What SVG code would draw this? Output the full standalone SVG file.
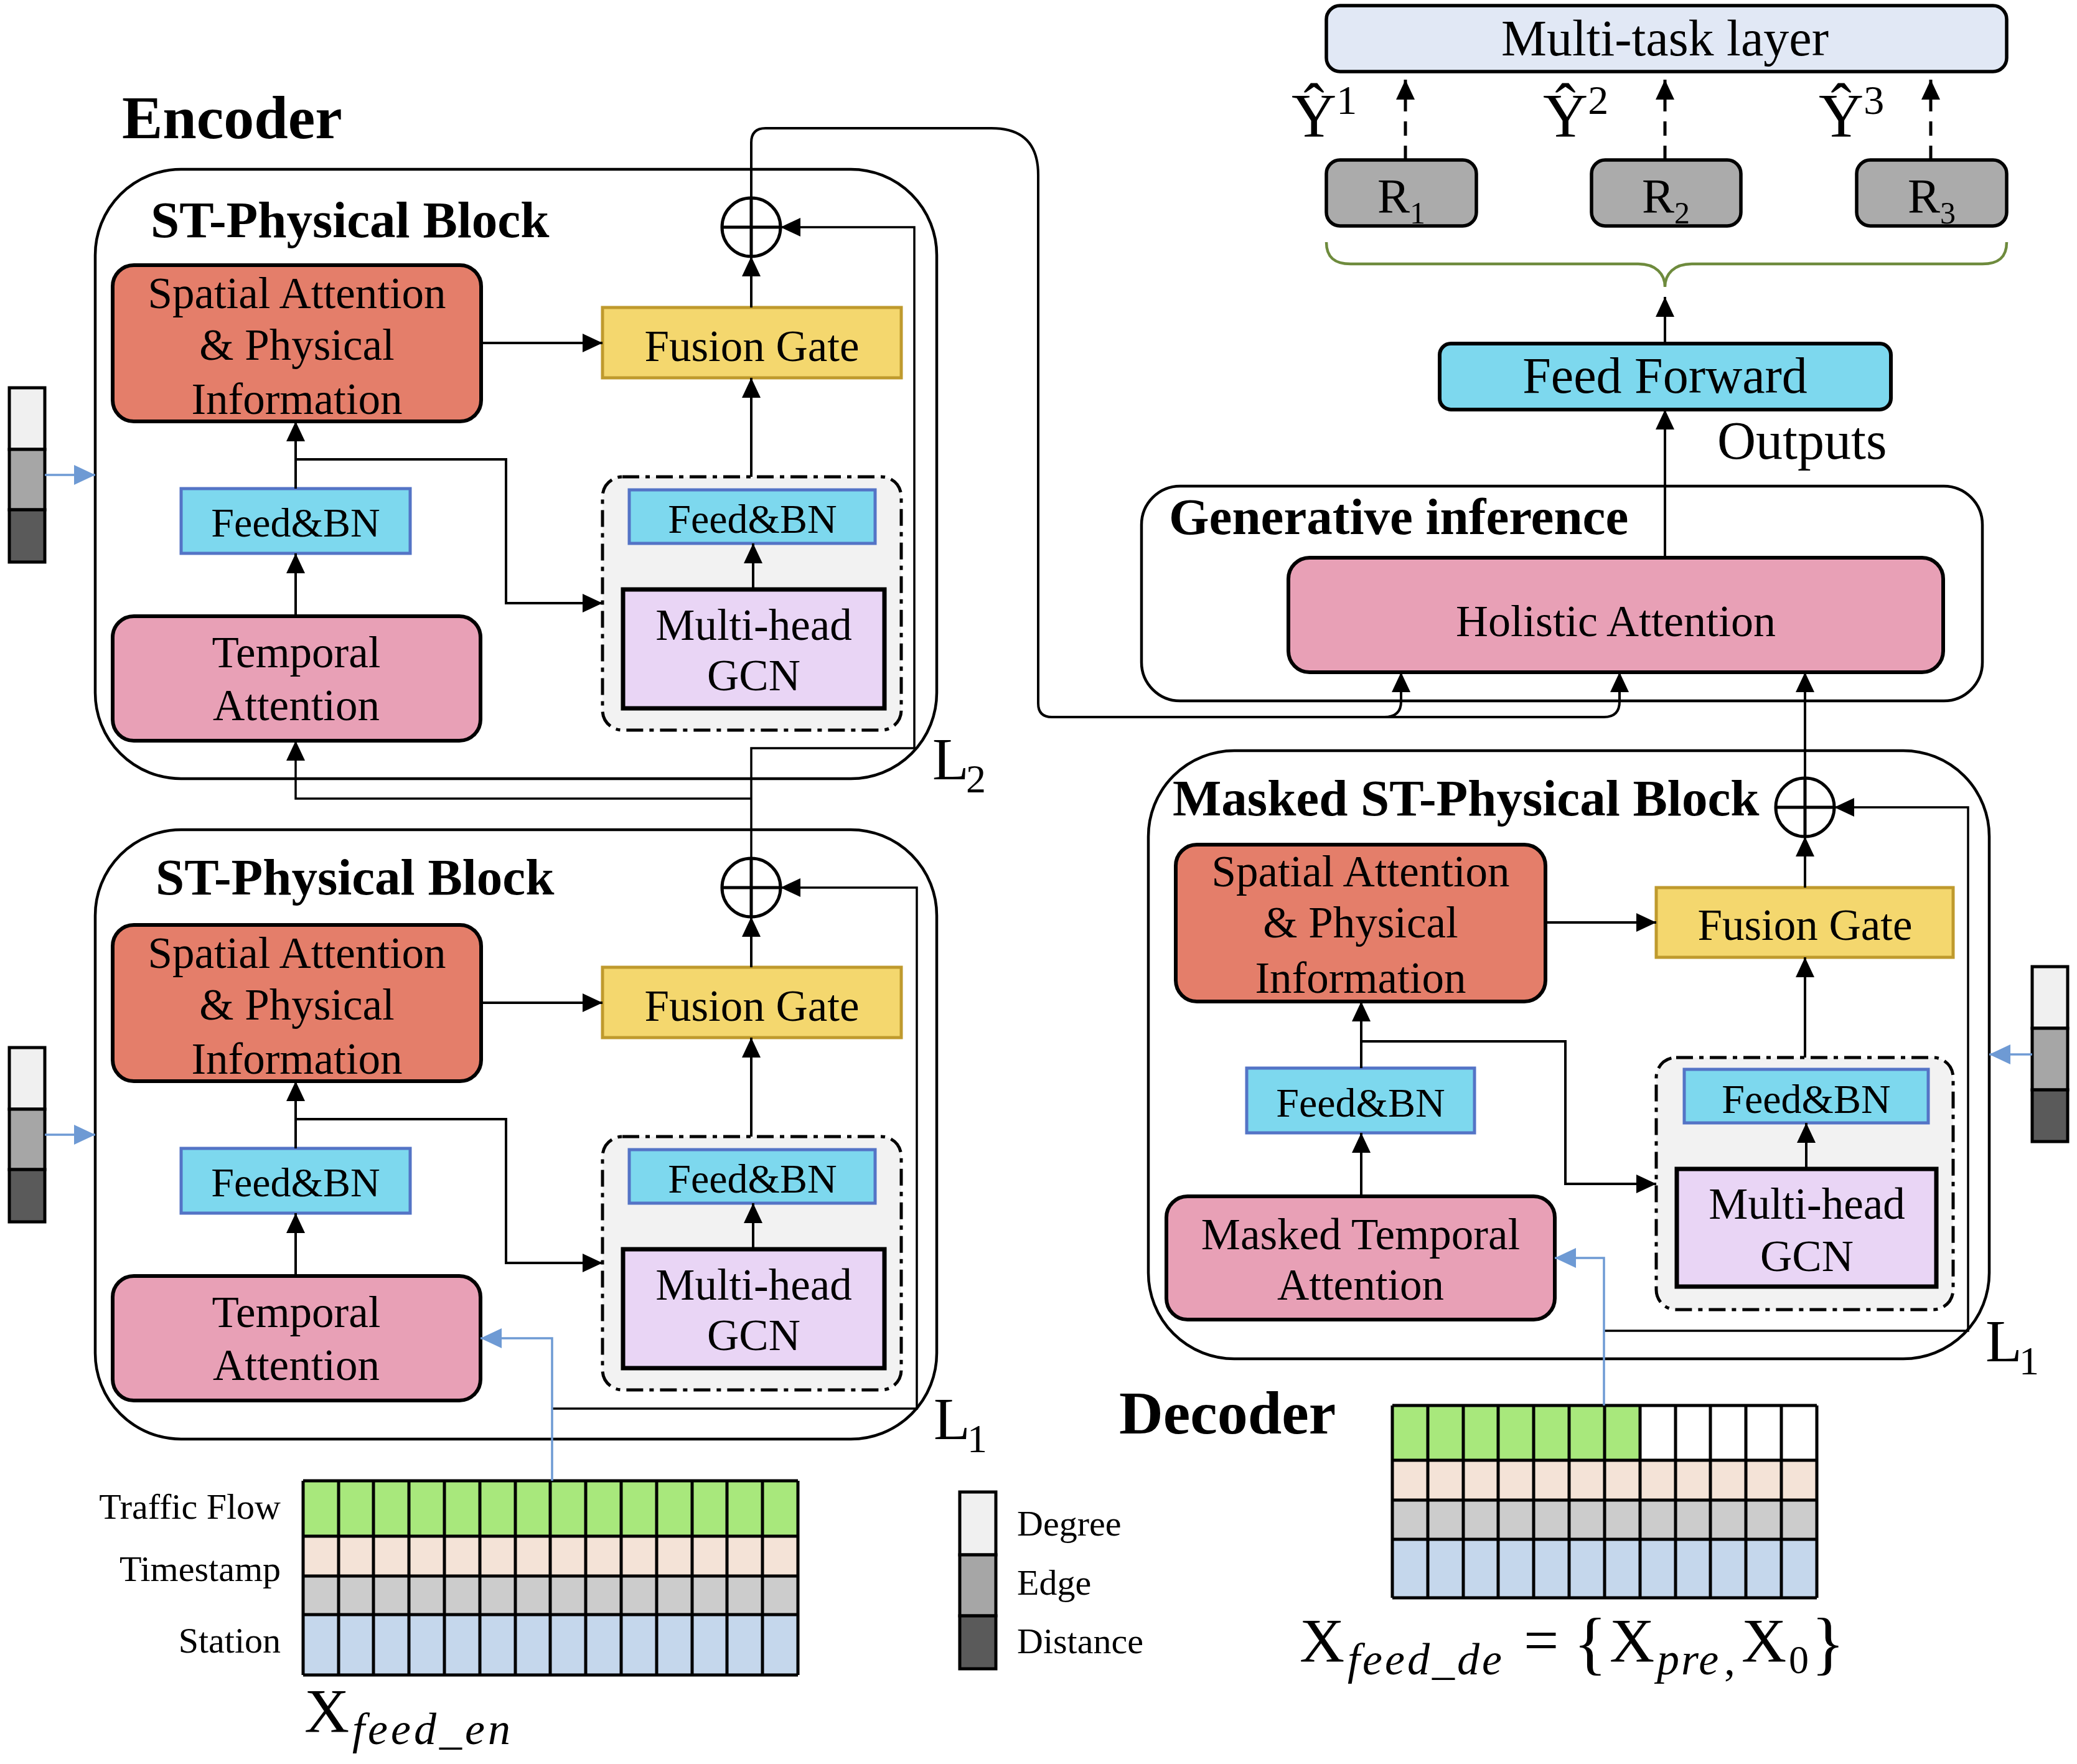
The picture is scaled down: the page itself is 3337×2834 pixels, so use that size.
<svg xmlns="http://www.w3.org/2000/svg" width="3337" height="2834" viewBox="0 0 3337 2834">
<style>
text{font-family:"Liberation Serif","Times New Roman",serif;fill:#000}
.t{font-size:71px;text-anchor:middle}
.fb{font-size:66px;text-anchor:middle}
.h{font-size:83px;font-weight:bold}
.big{font-size:98px;font-weight:bold}
.blk{fill:none;stroke:#000;stroke-width:4.5}
.sp{fill:#E47E6A;stroke:#000;stroke-width:6}
.tm{fill:#E8A0B6;stroke:#000;stroke-width:6}
.fg{fill:#F4D76E;stroke:#BF9A2D;stroke-width:5}
.fbn{fill:#7DD8EE;stroke:#5474C6;stroke-width:5}
.grp{fill:#F2F2F2;stroke:#000;stroke-width:5;stroke-dasharray:27 10 7 10}
.gcn{fill:#E9D5F5;stroke:#000;stroke-width:7}
.ln{fill:none;stroke:#000;stroke-width:4}
.ln2{fill:none;stroke:#000;stroke-width:3.5}
.bl{fill:none;stroke:#6E9AD4;stroke-width:3.5}
.ox{fill:none;stroke:#000;stroke-width:5}
.gl{stroke:#000;stroke-width:5}
.lab{font-size:58px}
.L{font-size:96px}
.sub{font-size:64px}
</style>
<defs>
<marker id="ah" viewBox="0 0 32 30" refX="32" refY="15" markerWidth="32" markerHeight="30" markerUnits="userSpaceOnUse" orient="auto"><path d="M0,0 L32,15 L0,30 z" fill="#000"/></marker>
<marker id="ahb" viewBox="0 0 34 32" refX="34" refY="16" markerWidth="34" markerHeight="32" markerUnits="userSpaceOnUse" orient="auto"><path d="M0,0 L34,16 L0,32 z" fill="#6E9AD4"/></marker>
</defs>
<rect width="3337" height="2834" fill="#fff"/>

<text class="big" x="196" y="222">Encoder</text>
<text class="big" x="1798" y="2303">Decoder</text>

<!-- Upper encoder block -->
<g id="enc-block2">
<rect class="blk" x="153" y="272" width="1352" height="979" rx="138"/>
<text class="h" x="242" y="381">ST-Physical Block</text>
<text class="L" x="1498" y="1252">L<tspan class="sub" x="1552" y="1273">2</tspan></text>
</g>
<g id="enc2-spatial"><rect class="sp" x="181" y="426" width="592" height="251" rx="34"/>
<text class="t" x="477" y="495">Spatial Attention</text><text class="t" x="477" y="578">&amp; Physical</text><text class="t" x="477" y="665">Information</text></g>
<g id="enc2-fusion"><rect class="fg" x="968" y="494" width="480" height="113"/><text class="t" x="1208" y="580">Fusion Gate</text></g>
<g id="enc2-feedbn"><rect class="fbn" x="291" y="785" width="368" height="104"/><text class="fb" x="475" y="862">Feed&amp;BN</text></g>
<g id="enc2-temporal"><rect class="tm" x="181" y="990" width="591" height="200" rx="34"/>
<text class="t" x="476" y="1072">Temporal</text><text class="t" x="476" y="1157">Attention</text></g>
<g id="enc2-gcngroup"><rect class="grp" x="968" y="766" width="480" height="407" rx="32"/>
<rect class="fbn" x="1011" y="787" width="395" height="86"/><text class="fb" x="1209" y="856">Feed&amp;BN</text>
<rect class="gcn" x="1001" y="947" width="420" height="191"/><text class="t" x="1211" y="1028">Multi-head</text><text class="t" x="1211" y="1109">GCN</text></g>
<g id="enc2-add"><circle class="ox" cx="1207" cy="365" r="47"/><line class="ox" x1="1160" y1="365" x2="1254" y2="365"/><line class="ox" x1="1207" y1="318" x2="1207" y2="412"/></g>
<g id="enc2-graph"><rect x="15" y="623" width="57" height="99" fill="#F0F0F0" class="gl"/><rect x="15" y="722" width="57" height="97" fill="#A6A6A6" class="gl"/><rect x="15" y="819" width="57" height="84" fill="#5A5A5A" class="gl"/></g>

<!-- Lower encoder block -->
<g id="enc-block1">
<rect class="blk" x="153" y="1333" width="1352" height="979" rx="138"/>
<text class="h" x="250" y="1437">ST-Physical Block</text>
<text class="L" x="1500" y="2312">L<tspan class="sub" x="1554" y="2333">1</tspan></text>
</g>
<g id="enc1-spatial"><rect class="sp" x="181" y="1486" width="592" height="251" rx="34"/>
<text class="t" x="477" y="1555">Spatial Attention</text><text class="t" x="477" y="1638">&amp; Physical</text><text class="t" x="477" y="1725">Information</text></g>
<g id="enc1-fusion"><rect class="fg" x="968" y="1554" width="480" height="113"/><text class="t" x="1208" y="1640">Fusion Gate</text></g>
<g id="enc1-feedbn"><rect class="fbn" x="291" y="1845" width="368" height="104"/><text class="fb" x="475" y="1922">Feed&amp;BN</text></g>
<g id="enc1-temporal"><rect class="tm" x="181" y="2050" width="591" height="200" rx="34"/>
<text class="t" x="476" y="2132">Temporal</text><text class="t" x="476" y="2217">Attention</text></g>
<g id="enc1-gcngroup"><rect class="grp" x="968" y="1826" width="480" height="407" rx="32"/>
<rect class="fbn" x="1011" y="1847" width="395" height="86"/><text class="fb" x="1209" y="1916">Feed&amp;BN</text>
<rect class="gcn" x="1001" y="2007" width="420" height="191"/><text class="t" x="1211" y="2088">Multi-head</text><text class="t" x="1211" y="2169">GCN</text></g>
<g id="enc1-add"><circle class="ox" cx="1207" cy="1426" r="47"/><line class="ox" x1="1160" y1="1426" x2="1254" y2="1426"/><line class="ox" x1="1207" y1="1379" x2="1207" y2="1473"/></g>
<g id="enc1-graph"><rect x="15" y="1683" width="57" height="99" fill="#F0F0F0" class="gl"/><rect x="15" y="1782" width="57" height="97" fill="#A6A6A6" class="gl"/><rect x="15" y="1879" width="57" height="84" fill="#5A5A5A" class="gl"/></g>

<!-- Encoder input grid -->
<g id="enc-input">
<rect x="487" y="2379" width="795" height="89" fill="#A8E87C"/>
<rect x="487" y="2468" width="795" height="64" fill="#F4E3D7"/>
<rect x="487" y="2532" width="795" height="62" fill="#CCCCCC"/>
<rect x="487" y="2594" width="795" height="97" fill="#C5D7EC"/>
<path class="gl" fill="none" d="M487 2379H1282M487 2468H1282M487 2532H1282M487 2594H1282M487 2691H1282M487 2379V2691M544 2379V2691M600 2379V2691M657 2379V2691M714 2379V2691M771 2379V2691M828 2379V2691M884 2379V2691M941 2379V2691M998 2379V2691M1055 2379V2691M1112 2379V2691M1168 2379V2691M1225 2379V2691M1282 2379V2691"/>
<text class="lab" x="451" y="2440" text-anchor="end">Traffic Flow</text>
<text class="lab" x="451" y="2540" text-anchor="end">Timestamp</text>
<text class="lab" x="451" y="2655" text-anchor="end">Station</text>
<text x="489" y="2782" font-size="100">X<tspan x="566" y="2802" font-size="72" font-style="italic" letter-spacing="5">feed_en</tspan></text>
</g>

<!-- Legend -->
<g id="legend">
<rect x="1542" y="2397" width="58" height="101" fill="#F0F0F0" class="gl"/>
<rect x="1542" y="2498" width="58" height="98" fill="#A6A6A6" class="gl"/>
<rect x="1542" y="2596" width="58" height="85" fill="#5A5A5A" class="gl"/>
<text class="lab" x="1634" y="2467">Degree</text>
<text class="lab" x="1634" y="2562">Edge</text>
<text class="lab" x="1634" y="2656">Distance</text>
</g>

<!-- Masked block -->
<g id="dec-block">
<rect class="blk" x="1845" y="1206" width="1351" height="977" rx="138"/>
<text class="h" x="1884" y="1310">Masked ST-Physical Block</text>
<text class="L" x="3190" y="2187">L<tspan class="sub" x="3244" y="2208">1</tspan></text>
</g>
<g id="dec-spatial"><rect class="sp" x="1889" y="1357" width="594" height="252" rx="34"/>
<text class="t" x="2186" y="1424">Spatial Attention</text><text class="t" x="2186" y="1506">&amp; Physical</text><text class="t" x="2186" y="1595">Information</text></g>
<g id="dec-fusion"><rect class="fg" x="2661" y="1426" width="477" height="112"/><text class="t" x="2900" y="1510">Fusion Gate</text></g>
<g id="dec-feedbn"><rect class="fbn" x="2003" y="1716" width="366" height="104"/><text class="fb" x="2186" y="1794">Feed&amp;BN</text></g>
<g id="dec-temporal"><rect class="tm" x="1874" y="1922" width="624" height="198" rx="34"/>
<text class="t" x="2186" y="2007">Masked Temporal</text><text class="t" x="2186" y="2088">Attention</text></g>
<g id="dec-gcngroup"><rect class="grp" x="2661" y="1699" width="477" height="405" rx="32"/>
<rect class="fbn" x="2706" y="1718" width="392" height="86"/><text class="fb" x="2902" y="1788">Feed&amp;BN</text>
<rect class="gcn" x="2694" y="1878" width="417" height="189"/><text class="t" x="2903" y="1958">Multi-head</text><text class="t" x="2903" y="2042">GCN</text></g>
<g id="dec-add"><circle class="ox" cx="2900" cy="1297" r="47"/><line class="ox" x1="2853" y1="1297" x2="2947" y2="1297"/><line class="ox" x1="2900" y1="1250" x2="2900" y2="1344"/></g>
<g id="dec-graph"><rect x="3265" y="1553" width="57" height="99" fill="#F0F0F0" class="gl"/><rect x="3265" y="1652" width="57" height="99" fill="#A6A6A6" class="gl"/><rect x="3265" y="1751" width="57" height="83" fill="#5A5A5A" class="gl"/></g>

<!-- Decoder input grid -->
<g id="dec-input">
<rect x="2237" y="2258" width="682" height="88" fill="#fff"/>
<rect x="2237" y="2258" width="398" height="88" fill="#A8E87C"/>
<rect x="2237" y="2346" width="682" height="64" fill="#F4E3D7"/>
<rect x="2237" y="2410" width="682" height="63" fill="#CCCCCC"/>
<rect x="2237" y="2473" width="682" height="94" fill="#C5D7EC"/>
<path class="gl" fill="none" d="M2237 2258H2919M2237 2346H2919M2237 2410H2919M2237 2473H2919M2237 2567H2919M2237 2258V2567M2294 2258V2567M2351 2258V2567M2407 2258V2567M2464 2258V2567M2521 2258V2567M2578 2258V2567M2635 2258V2567M2692 2258V2567M2748 2258V2567M2805 2258V2567M2862 2258V2567M2919 2258V2567"/>
<text x="2088" y="2669" font-size="100">X<tspan x="2165" y="2690" font-size="72" font-style="italic" letter-spacing="4">feed_de</tspan><tspan x="2448" y="2669">=</tspan><tspan x="2528" y="2677" font-size="112">{</tspan><tspan x="2586" y="2669">X</tspan><tspan x="2662" y="2690" font-size="72" font-style="italic" letter-spacing="3">pre</tspan><tspan x="2770" y="2690" font-size="72">,</tspan><tspan x="2798" y="2669">X</tspan><tspan x="2874" y="2688" font-size="64">0</tspan><tspan x="2910" y="2677" font-size="112">}</tspan></text>
</g>

<!-- Generative inference -->
<g id="gen-inference">
<rect class="blk" x="1834" y="781" width="1351" height="345" rx="62"/>
<text class="h" x="1878" y="858">Generative inference</text>
</g>
<g id="holistic"><rect class="tm" x="2070" y="896" width="1052" height="184" rx="34"/><text x="2596" y="1022" font-size="72" text-anchor="middle">Holistic Attention</text></g>
<g id="feed-forward"><rect x="2313" y="552" width="725" height="106" rx="18" fill="#7DD8EE" stroke="#000" stroke-width="6"/><text x="2675" y="631" font-size="82" text-anchor="middle">Feed Forward</text></g>
<text x="2759" y="737" font-size="86">Outputs</text>
<g id="brace"><path d="M2131 389C2131 414 2145 424 2170 424H2632C2660 424 2675 440 2675 461C2675 440 2690 424 2718 424H3185C3210 424 3224 414 3224 389" fill="none" stroke="#6E8B3D" stroke-width="4.5"/></g>
<g id="r1"><rect x="2131" y="257" width="241" height="106" rx="22" fill="#ABABAB" stroke="#000" stroke-width="5.5"/><text x="2213" y="341" font-size="78">R<tspan font-size="50" dy="18">1</tspan></text></g>
<g id="r2"><rect x="2557" y="257" width="240" height="106" rx="22" fill="#ABABAB" stroke="#000" stroke-width="5.5"/><text x="2638" y="341" font-size="78">R<tspan font-size="50" dy="18">2</tspan></text></g>
<g id="r3"><rect x="2983" y="257" width="241" height="106" rx="22" fill="#ABABAB" stroke="#000" stroke-width="5.5"/><text x="3065" y="341" font-size="78">R<tspan font-size="50" dy="18">3</tspan></text></g>
<g id="multitask"><rect x="2131" y="9" width="1093" height="106" rx="22" fill="#E1E8F5" stroke="#000" stroke-width="5.5"/><text x="2675" y="89" font-size="82" text-anchor="middle">Multi-task layer</text></g>
<text x="2075" y="219" font-size="100">Ŷ<tspan font-size="66" y="183">1</tspan></text>
<text x="2479" y="219" font-size="100">Ŷ<tspan font-size="66" y="183">2</tspan></text>
<text x="2922" y="219" font-size="100">Ŷ<tspan font-size="66" y="183">3</tspan></text>

<!-- Connectors -->
<g id="connectors">
<path class="ln" d="M475 990V889" marker-end="url(#ah)"/>
<path class="ln" d="M475 785V677" marker-end="url(#ah)"/>
<path class="ln" d="M475 738H813V969H968" marker-end="url(#ah)"/>
<path class="ln" d="M773 551H968" marker-end="url(#ah)"/>
<path class="ln" d="M1207 766V607" marker-end="url(#ah)"/>
<path class="ln" d="M1210 947V873" marker-end="url(#ah)"/>
<path class="ln" d="M1207 494V412" marker-end="url(#ah)"/>
<path class="ln" d="M475 2050V1949" marker-end="url(#ah)"/>
<path class="ln" d="M475 1845V1737" marker-end="url(#ah)"/>
<path class="ln" d="M475 1798H813V2029H968" marker-end="url(#ah)"/>
<path class="ln" d="M773 1611H968" marker-end="url(#ah)"/>
<path class="ln" d="M1207 1826V1667" marker-end="url(#ah)"/>
<path class="ln" d="M1210 2007V1933" marker-end="url(#ah)"/>
<path class="ln" d="M1207 1554V1473" marker-end="url(#ah)"/>
<path class="ln2" d="M1207 1379V1202H1469V365H1254" marker-end="url(#ah)"/>
<path class="ln2" d="M1207 1283H475V1190" marker-end="url(#ah)"/>
<path class="ln2" d="M887 2263H1473V1426H1254" marker-end="url(#ah)"/>
<path class="bl" d="M887 2379V2150H772" marker-end="url(#ahb)"/>
<path class="bl" d="M72 763H153" marker-end="url(#ahb)"/>
<path class="bl" d="M72 1823H153" marker-end="url(#ahb)"/>
<path class="ln" d="M1207 318V229Q1207 206 1230 206H1593Q1668 206 1668 281V1130Q1668 1152 1690 1152H2577Q2602 1152 2602 1127V1080" marker-end="url(#ah)"/>
<path class="ln" d="M2224 1152Q2251 1152 2251 1127V1080" marker-end="url(#ah)"/>
<path class="ln" d="M2187 1922V1820" marker-end="url(#ah)"/>
<path class="ln" d="M2187 1716V1609" marker-end="url(#ah)"/>
<path class="ln" d="M2187 1673H2515V1902H2661" marker-end="url(#ah)"/>
<path class="ln" d="M2483 1482H2661" marker-end="url(#ah)"/>
<path class="ln" d="M2900 1699V1538" marker-end="url(#ah)"/>
<path class="ln" d="M2902 1878V1804" marker-end="url(#ah)"/>
<path class="ln" d="M2900 1426V1344" marker-end="url(#ah)"/>
<path class="ln" d="M2900 1250V1080" marker-end="url(#ah)"/>
<path class="ln2" d="M2577 2138H3162V1297H2947" marker-end="url(#ah)"/>
<path class="bl" d="M2577 2258V2021H2498" marker-end="url(#ahb)"/>
<path class="bl" d="M3265 1694H3196" marker-end="url(#ahb)"/>
<path class="ln" d="M2675 896V658" marker-end="url(#ah)"/>
<path class="ln" d="M2675 552V477" marker-end="url(#ah)"/>
<path class="ln" d="M2258 257V128" stroke-dasharray="23 16" marker-end="url(#ah)" style="stroke-width:5"/>
<path class="ln" d="M2675 257V128" stroke-dasharray="23 16" marker-end="url(#ah)" style="stroke-width:5"/>
<path class="ln" d="M3102 257V128" stroke-dasharray="23 16" marker-end="url(#ah)" style="stroke-width:5"/>
</g>
</svg>
